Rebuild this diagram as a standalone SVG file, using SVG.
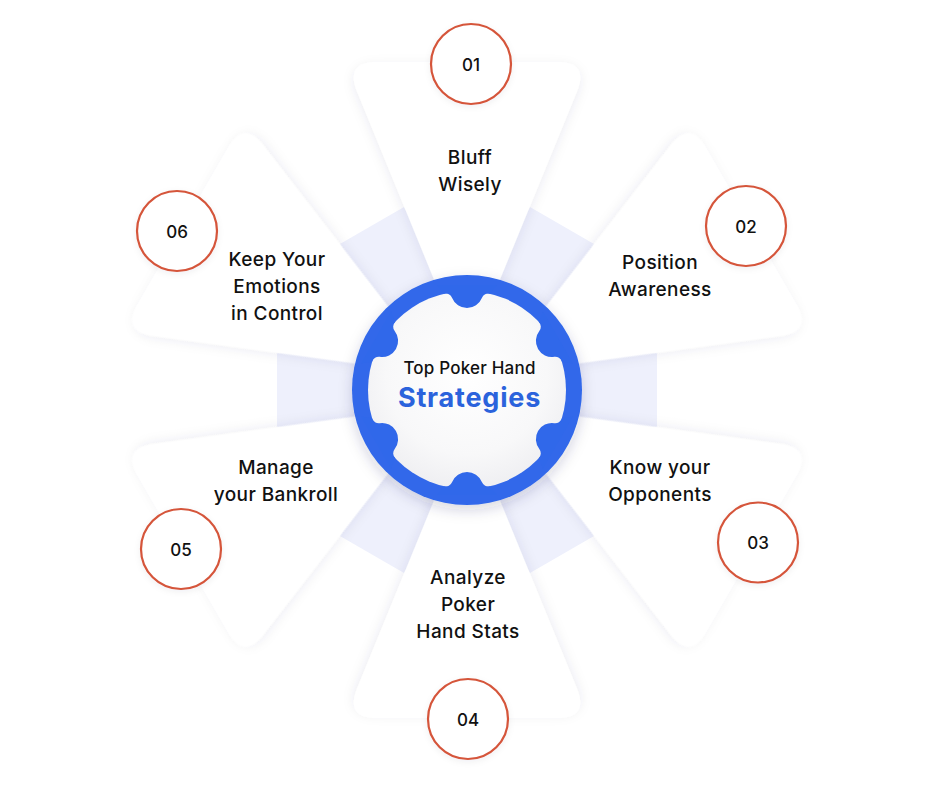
<svg xmlns="http://www.w3.org/2000/svg" width="941" height="790" viewBox="0 0 941 790">
  <defs>
    <filter id="petalShadow" x="-20%" y="-20%" width="140%" height="140%">
      <feDropShadow dx="0" dy="3" stdDeviation="6" flood-color="#1b2450" flood-opacity="0.08"/>
    </filter>
    <filter id="chipShadow" x="-20%" y="-20%" width="140%" height="140%">
      <feDropShadow dx="0" dy="5" stdDeviation="7" flood-color="#1b2450" flood-opacity="0.18"/>
    </filter>
    <filter id="numShadow" x="-20%" y="-20%" width="140%" height="140%">
      <feDropShadow dx="0" dy="2" stdDeviation="3" flood-color="#1b2450" flood-opacity="0.06"/>
    </filter>
    <radialGradient id="chipFace" cx="50%" cy="42%" r="58%">
      <stop offset="0" stop-color="#ffffff"/>
      <stop offset="0.7" stop-color="#f8f8f9"/>
      <stop offset="1" stop-color="#efeff2"/>
    </radialGradient>
    <path id="petal" d="M 0,-30 L -109.9,-298.4 Q -122,-328 -90,-328 L 90,-328 Q 122,-328 109.9,-298.4 Z"/>
    <path id="bump" d="M -30,-105 L -22.99,-96.30 A 7 7 0 0 1 -14.86,-92.08 A 16 16 0 0 0 14.86,-92.08 A 7 7 0 0 1 22.99,-96.30 L 30,-105 Z"/>
  </defs>
  <style>
    .band { fill: #eef0fc; }
    .petal { fill: #ffffff; filter: url(#petalShadow); }
    .num { fill: #ffffff; stroke: #d5553a; stroke-width: 2.2; }
    .numtxt { font-family: Inter, "Liberation Sans", sans-serif; font-size: 17px; font-weight: 500; fill: #111111; text-anchor: middle; }
    .lbl { font-family: Inter, "Liberation Sans", sans-serif; font-size: 19px; font-weight: 500; fill: #111111; text-anchor: middle; letter-spacing: 0.4px; }
    .blue { fill: #3068ea; }
  </style>
  <rect width="941" height="790" fill="#ffffff"/>

  <g id="background-bands" transform="translate(467,390)">
    <rect class="band" x="0" y="-37" width="190" height="74" transform="rotate(0)"/>
    <rect class="band" x="0" y="-37" width="190" height="74" transform="rotate(60)"/>
    <rect class="band" x="0" y="-37" width="190" height="74" transform="rotate(120)"/>
    <rect class="band" x="0" y="-37" width="190" height="74" transform="rotate(180)"/>
    <rect class="band" x="0" y="-37" width="190" height="74" transform="rotate(240)"/>
    <rect class="band" x="0" y="-37" width="190" height="74" transform="rotate(300)"/>
  </g>

  <g id="connectors"></g>

  <g id="node-01">
    <use href="#petal" class="petal" transform="translate(467,390) rotate(0)"/>
    <circle class="num" cx="471" cy="64" r="40" filter="url(#numShadow)"/>
    <text class="numtxt" x="471" y="70.5">01</text>
    <text class="lbl" x="470" y="164">Bluff</text>
    <text class="lbl" x="470" y="191">Wisely</text>
  </g>
  <g id="node-02">
    <use href="#petal" class="petal" transform="translate(467,390) rotate(60)"/>
    <circle class="num" cx="746" cy="226" r="40" filter="url(#numShadow)"/>
    <text class="numtxt" x="746" y="232.5">02</text>
    <text class="lbl" x="660" y="269">Position</text>
    <text class="lbl" x="660" y="296">Awareness</text>
  </g>
  <g id="node-03">
    <use href="#petal" class="petal" transform="translate(467,390) rotate(120)"/>
    <circle class="num" cx="758" cy="542.5" r="40" filter="url(#numShadow)"/>
    <text class="numtxt" x="758" y="549">03</text>
    <text class="lbl" x="660" y="474">Know your</text>
    <text class="lbl" x="660" y="501">Opponents</text>
  </g>
  <g id="node-04">
    <use href="#petal" class="petal" transform="translate(467,390) rotate(180)"/>
    <circle class="num" cx="468" cy="719" r="40" filter="url(#numShadow)"/>
    <text class="numtxt" x="468" y="725.5">04</text>
    <text class="lbl" x="468" y="584">Analyze</text>
    <text class="lbl" x="468" y="611">Poker</text>
    <text class="lbl" x="468" y="638">Hand Stats</text>
  </g>
  <g id="node-05">
    <use href="#petal" class="petal" transform="translate(467,390) rotate(240)"/>
    <circle class="num" cx="181" cy="549" r="40" filter="url(#numShadow)"/>
    <text class="numtxt" x="181" y="555.5">05</text>
    <text class="lbl" x="276" y="474">Manage</text>
    <text class="lbl" x="276" y="501">your Bankroll</text>
  </g>
  <g id="node-06">
    <use href="#petal" class="petal" transform="translate(467,390) rotate(300)"/>
    <circle class="num" cx="177" cy="231" r="40" filter="url(#numShadow)"/>
    <text class="numtxt" x="177" y="237.5">06</text>
    <text class="lbl" x="277" y="266">Keep Your</text>
    <text class="lbl" x="277" y="293">Emotions</text>
    <text class="lbl" x="277" y="320">in Control</text>
  </g>

  <g id="center-chip">
    <circle class="blue" cx="467" cy="390" r="115" filter="url(#chipShadow)"/>
    <circle cx="467" cy="390" r="99" fill="url(#chipFace)"/>
    <g transform="translate(467,390)">
      <use href="#bump" class="blue" transform="rotate(0)"/>
      <use href="#bump" class="blue" transform="rotate(60)"/>
      <use href="#bump" class="blue" transform="rotate(120)"/>
      <use href="#bump" class="blue" transform="rotate(180)"/>
      <use href="#bump" class="blue" transform="rotate(240)"/>
      <use href="#bump" class="blue" transform="rotate(300)"/>
    </g>
    <text x="469.5" y="374" font-family="Inter, 'Liberation Sans', sans-serif" font-size="17" font-weight="500" fill="#111111" text-anchor="middle" letter-spacing="0.2">Top Poker Hand</text>
    <text x="469.5" y="407" font-family="Inter, 'Liberation Sans', sans-serif" font-size="27" font-weight="700" fill="#2b63dc" text-anchor="middle" letter-spacing="0.8">Strategies</text>
  </g>
</svg>
